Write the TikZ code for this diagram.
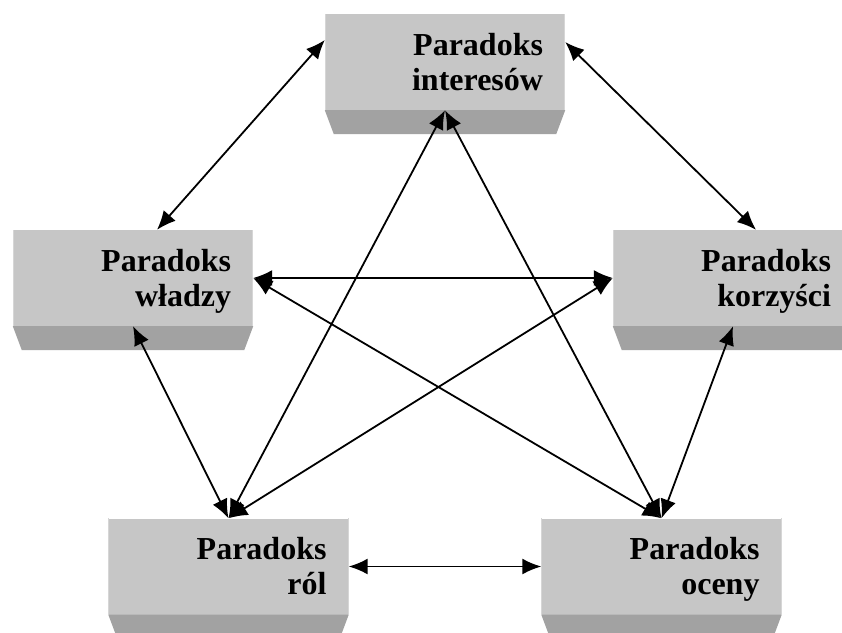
\documentclass[tikz,border=0pt]{standalone}
\usepackage{fontspec}
\setmainfont{Liberation Serif}
\usetikzlibrary{arrows.meta}
\definecolor{facegray}{HTML}{C6C6C6}
\definecolor{bevelgray}{HTML}{A2A2A2}
\definecolor{edgegray}{HTML}{D6D6D6}
\tikzset{
  face/.style={rectangle, fill=facegray, minimum width=240pt, minimum height=96pt, inner sep=0pt},
  lbl/.style={inner sep=0pt, align=right, font=\fontsize{32}{35}\selectfont\bfseries, anchor=east},
  link/.style={line width=1.8pt, {Latex[length=19pt,width=16pt]}-{Latex[length=19pt,width=16pt]}}
}
% a bevelled box: face node, darker lower strip, right-aligned caption
\newcommand{\parabox}[3]{%
  \node[face] (#1) at (#2) {};
  \fill[bevelgray] (#1.south west) -- (#1.south east) -- ([xshift=-9pt,yshift=-24pt]#1.south east) -- ([xshift=9pt,yshift=-24pt]#1.south west) -- cycle;
  \draw[edgegray, line width=1pt] ([xshift=0.5pt]#1.south west) -- ([xshift=0.5pt]#1.north west);
  \draw[edgegray, line width=1pt] ([xshift=-0.5pt]#1.south east) -- ([xshift=-0.5pt]#1.north east);
  \node[lbl] (#1-t) at ([xshift=-22pt,yshift=-3.5pt]#1.east) {\strut Paradoks\\\strut #3};
}
\begin{document}
\begin{tikzpicture}[x=1pt,y=-1pt]
  \useasboundingbox (0,0) rectangle (842,632);
  \clip (0,0) rectangle (842,632);
  \fill[white] (0,0) rectangle (842,632);

  \parabox{int}{445,62}{interesów}
  \parabox{wla}{133,278}{władzy}
  \parabox{kor}{733,278}{korzyści}
  \parabox{rol}{228.5,566.5}{ról}
  \parabox{oce}{661.5,566.5}{oceny}

  % connections between every pair of paradoxes
  \draw[link] ([yshift=22pt]int.west) -- ([xshift=24pt]wla.north);
  \draw[link] ([yshift=20pt]int.east) -- ([xshift=23pt]kor.north);
  \draw[link] (wla.east) -- (kor.west);
  \draw[link] (wla.south) -- (rol.north);
  \draw[link] (kor.south) -- (oce.north);
  \draw[link] (rol.east) -- (oce.west);
  \draw[link] (int.south) -- (rol.north);
  \draw[link] (int.south) -- (oce.north);
  \draw[link] (wla.east) -- (oce.north);
  \draw[link] (kor.west) -- (rol.north);
\end{tikzpicture}
\end{document}
